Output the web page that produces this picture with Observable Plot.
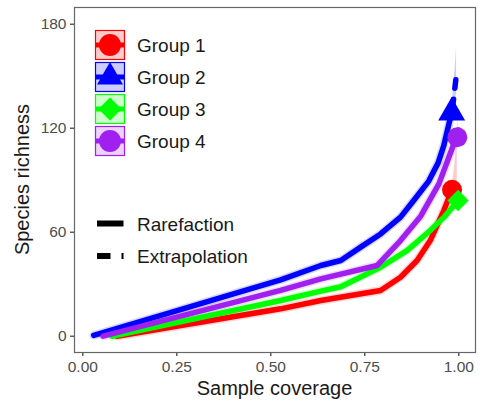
<!DOCTYPE html>
<html><head><meta charset="utf-8">
<script src="https://cdn.jsdelivr.net/npm/d3@7"></script>
<script src="https://cdn.jsdelivr.net/npm/@observablehq/plot@0.6"></script>
<style>
html,body{margin:0;padding:0;background:#fff;}
#wrap{position:relative;width:480px;height:401px;}
#wrap svg{display:block;}
#legend{position:absolute;left:0;top:0;}
</style></head>
<body><div id="wrap"></div>
<script>
// ---- data ----
const groups = ["Group 1", "Group 2", "Group 3", "Group 4"];
const colors = ["#ff0000", "#0000ff", "#00ff00", "#a020f0"];
const methods = ["Rarefaction", "Extrapolation"];
const xTicks = [0, 0.25, 0.5, 0.75, 1];
const yTicks = [0, 60, 120, 180];

// rarefaction curves (sample coverage, species richness)
const g1RareX = [0.091, 0.526, 0.633, 0.792, 0.845, 0.889, 0.924, 0.960, 0.982];
const g1RareY = [0, 15.8, 20.6, 26.4, 34, 43.7, 55.2, 72.5, 84.5];
const g2RareX = [0.029, 0.526, 0.633, 0.686, 0.739, 0.792, 0.845, 0.880, 0.920, 0.945, 0.960, 0.971, 0.981];
const g2RareY = [0.5, 32.5, 40.8, 43.7, 51.4, 59, 68.7, 78.3, 89.5, 100, 110, 120, 129];
const g3RareX = [0.078, 0.526, 0.633, 0.686, 0.792, 0.863, 0.924, 0.962, 0.998];
const g3RareY = [0, 20.6, 26, 28.5, 39.8, 49.5, 61, 69, 78.3];
const g4RareX = [0.054, 0.526, 0.633, 0.783, 0.845, 0.898, 0.947, 0.973, 0.987, 0.996];
const g4RareY = [0, 26.4, 33.1, 40.8, 55.2, 69, 87.9, 103, 111, 114.8];

// extrapolation curves
const g1ExtX = [0.982, 0.986];
const g1ExtY = [84.5, 88];
const g2ExtX = [0.981, 0.987, 0.992];
const g2ExtY = [129, 138, 148];
const g3ExtX = [0.998, 1.0];
const g3ExtY = [78.3, 80];
const g4ExtX = [0.996, 0.999];
const g4ExtY = [114.8, 119];

// confidence bands of the extrapolated part
const g1BandX = [0.982, 0.990, 0.996];
const g1BandLo = [83, 85, 87];
const g1BandHi = [86, 100, 118];
const g2BandX = [0.981, 0.987, 0.992, 0.994];
const g2BandLo = [127, 133, 138, 140];
const g2BandHi = [132, 145, 160, 168];
const g3BandX = [0.998, 1.0];
const g3BandLo = [77, 78];
const g3BandHi = [80, 84];
const g4BandX = [0.996, 0.998, 0.999];
const g4BandLo = [113, 115, 116];
const g4BandHi = [117, 124, 130];

// observed (reference) points
const obsX = [0.982, 0.981, 0.998, 0.996];
const obsY = [84.5, 129, 78.3, 114.8];

// ---- tables ----
const rareX = [g1RareX, g2RareX, g3RareX, g4RareX], rareY = [g1RareY, g2RareY, g3RareY, g4RareY];
const extX = [g1ExtX, g2ExtX, g3ExtX, g4ExtX], extY = [g1ExtY, g2ExtY, g3ExtY, g4ExtY];
const bandX = [g1BandX, g2BandX, g3BandX, g4BandX], bandLo = [g1BandLo, g2BandLo, g3BandLo, g4BandLo], bandHi = [g1BandHi, g2BandHi, g3BandHi, g4BandHi];
const rare = groups.flatMap((g, i) => rareX[i].map((x, j) => ({group: g, x, y: rareY[i][j]})));
const ext = groups.flatMap((g, i) => extX[i].map((x, j) => ({group: g, x, y: extY[i][j]})));
const band = groups.flatMap((g, i) => bandX[i].map((x, j) => ({group: g, x, lo: bandLo[i][j], hi: bandHi[i][j]})));
const obs = groups.map((g, i) => ({group: g, x: obsX[i], y: obsY[i]}));

const diamond = {draw(ctx, size) { const r = Math.sqrt(size / 2); ctx.moveTo(0, -r); ctx.lineTo(r, 0); ctx.lineTo(0, r); ctx.lineTo(-r, 0); ctx.closePath(); }};
const shapes = [d3.symbolCircle, d3.symbolTriangle, diamond, d3.symbolCircle];
const radii = [10, 10, 8.5, 10];

const FONT = "'Liberation Sans', Arial, sans-serif";

const chart = Plot.plot({
  width: 480, height: 401,
  marginLeft: 74, marginRight: 5, marginTop: 7, marginBottom: 49,
  style: {fontFamily: FONT, background: "#fff", overflow: "visible"},
  x: {domain: [-0.0221, 1.0444]},
  y: {domain: [-9.40, 189.64]},
  color: {domain: groups, range: colors},
  marks: [
    Plot.areaY(band, {x: "x", y1: "lo", y2: "hi", z: "group", fill: "group", fillOpacity: 0.2}),
    Plot.line(rare, {x: "x", y: "y", z: "group", stroke: "group", strokeWidth: 8.5, strokeOpacity: 0.16}),
    Plot.line(rare, {x: "x", y: "y", z: "group", stroke: "group", strokeWidth: 5.5}),
    Plot.line(ext, {x: "x", y: "y", z: "group", stroke: "group", strokeWidth: 5.5, strokeDasharray: "13.5,11"}),
    ...groups.map((g, i) => Plot.dot(obs.filter(d => d.group === g), {x: "x", y: "y", fill: colors[i], stroke: "none", symbol: shapes[i], r: radii[i]})),
    Plot.axisX({ticks: xTicks, tickFormat: d3.format(".2f"), tickSize: 4, tickPadding: 4, fontSize: 15.5, label: null}),
    Plot.axisY({ticks: yTicks, tickSize: 4, tickPadding: 4, fontSize: 15.5, label: null}),
    Plot.frame({stroke: "#666", strokeWidth: 1.2})
  ]
});

const svg = d3.select(chart);
svg.selectAll('g[aria-label="x-axis tick"], g[aria-label="y-axis tick"]').attr("stroke", "#333").attr("stroke-width", 1.2);
svg.selectAll('g[aria-label="x-axis tick label"], g[aria-label="y-axis tick label"]').attr("fill", "#4d4d4d");
// axis titles
svg.append("text").attr("x", (74 + 475) / 2).attr("y", 395).attr("text-anchor", "middle")
  .attr("font-family", FONT).attr("font-size", 20).attr("fill", "#1a1a1a").text("Sample coverage");
svg.append("text").attr("transform", `translate(28.5,${(7 + 352) / 2}) rotate(-90)`).attr("text-anchor", "middle")
  .attr("font-family", FONT).attr("font-size", 20).attr("fill", "#1a1a1a").text("Species richness");

document.getElementById("wrap").appendChild(chart);

// ---- legend ----
const leg = d3.select("#wrap").append("svg").attr("id", "legend").attr("width", 480).attr("height", 401);
const keyX = 95, keyW = 30, pitch = 32, top0 = 30;
const legSizes = [380, 292, 264, 380];
groups.forEach((g, i) => {
  const y0 = top0 + i * pitch, cy = y0 + keyW / 2;
  leg.append("rect").attr("x", keyX + 0.5).attr("y", y0 + 0.5).attr("width", keyW - 1).attr("height", keyW - 1)
    .attr("fill", colors[i]).attr("fill-opacity", 0.2).attr("stroke", colors[i]).attr("stroke-width", 1.2);
  leg.append("line").attr("x1", keyX + 1).attr("x2", keyX + keyW - 1).attr("y1", cy).attr("y2", cy)
    .attr("stroke", colors[i]).attr("stroke-width", 5);
  leg.append("path").attr("transform", `translate(${keyX + keyW / 2},${cy})`)
    .attr("d", d3.symbol().type(shapes[i]).size(legSizes[i])()).attr("fill", colors[i]);
  leg.append("text").attr("x", 137).attr("y", cy + 7).attr("font-family", FONT).attr("font-size", 19)
    .attr("fill", "#1a1a1a").text(g);
});
const lineCy = [223.5, 256];
methods.forEach((m, i) => {
  leg.append("line").attr("x1", 97).attr("x2", 123.5).attr("y1", lineCy[i]).attr("y2", lineCy[i])
    .attr("stroke", "#000").attr("stroke-width", 6).attr("stroke-dasharray", i === 0 ? null : "13.5,11");
  leg.append("text").attr("x", 137).attr("y", lineCy[i] + 7).attr("font-family", FONT).attr("font-size", 19)
    .attr("fill", "#1a1a1a").text(m);
});
</script>
</body></html>
